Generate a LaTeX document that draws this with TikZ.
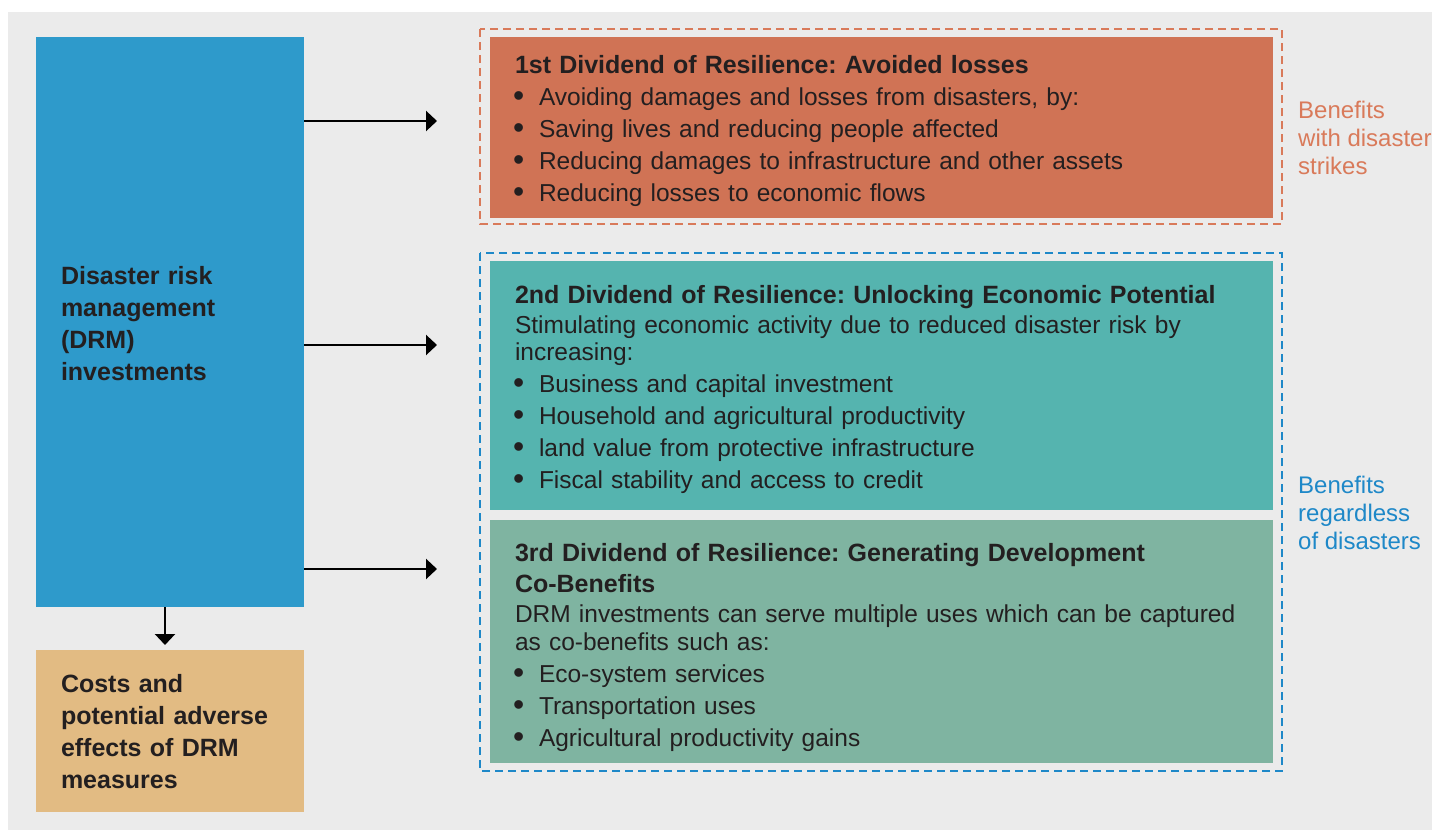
\documentclass[tikz,border=0pt]{standalone}
\usepackage{fontspec}
\usepackage{graphicx}
\setmainfont{Liberation Sans}
\usetikzlibrary{arrows.meta,positioning}
\definecolor{bggray}{HTML}{EBEBEB}
\definecolor{drmblue}{HTML}{2E9ACB}
\definecolor{costtan}{HTML}{E2BB83}
\definecolor{lossorange}{HTML}{D07355}
\definecolor{econteal}{HTML}{55B4AF}
\definecolor{devgreen}{HTML}{7FB4A1}
\definecolor{lblorange}{HTML}{D97A5A}
\definecolor{lblblue}{HTML}{1E88C8}
\definecolor{txtdark}{HTML}{231F20}
\newcommand{\bul}{\makebox[24pt][l]{\hspace{-2pt}\raisebox{-1pt}{\scalebox{1.3}{\textbullet}}}}
\newcommand{\topstrut}[1]{\rule{0pt}{#1pt}}
\frenchspacing

\begin{document}
\begin{tikzpicture}[x=1pt,y=-1pt,
  box/.style = {rectangle,anchor=north west,inner xsep=25pt,inner ysep=0pt,outer sep=0pt,
                align=left,text=txtdark,font=\fontsize{24.5}{32}\selectfont},
  boldbox/.style = {box,text width=218pt,font=\bfseries\fontsize{25}{32}\selectfont},
  divbox/.style = {box,text width=733pt,minimum width=783pt},
  frame/.style = {line width=2.5pt,dash pattern=on 8pt off 5pt},
  side/.style = {anchor=north west,inner sep=0pt,align=left,font=\fontsize{24}{28}\selectfont},
  arr/.style = {line width=2.3pt,-{Triangle[length=11pt,width=20pt]}}]
\useasboundingbox (0,0) rectangle (1432,830);
\fill[bggray] (8,12) rectangle (1432,830);

% left column
\node[boldbox,fill=drmblue,minimum height=570pt]
  (drm) at (36,37) {\topstrut{21.9}Disaster risk\\management\\(DRM)\\investments};
\node[boldbox,fill=costtan,minimum height=162pt]
  (costs) at (36,650) {\topstrut{19.9}Costs and\\potential adverse\\effects of DRM\\measures};

% dividends
\node[divbox,fill=lossorange,minimum height=181pt] (div1) at (490,37)
  {\topstrut{25.9}\textbf{\fontsize{25}{32}\selectfont 1st Dividend of Resilience: Avoided losses}\\
   \bul Avoiding damages and losses from disasters, by:\\
   \bul Saving lives and reducing people affected\\
   \bul Reducing damages to infrastructure and other assets\\
   \bul Reducing losses to economic flows};
\node[divbox,fill=econteal,minimum height=249pt] (div2) at (490,261)
  {\topstrut{25.9}\textbf{\fontsize{25}{32}\selectfont 2nd Dividend of Resilience: Unlocking Economic Potential}\\[-2pt]
   Stimulating economic activity due to reduced disaster risk by\\[-5pt]
   increasing:\\
   \bul Business and capital investment\\
   \bul Household and agricultural productivity\\
   \bul land value from protective infrastructure\\
   \bul Fiscal stability and access to credit};
\node[divbox,fill=devgreen,minimum height=243pt] (div3) at (490,520)
  {\topstrut{29.9}\textbf{\fontsize{25}{32}\selectfont 3rd Dividend of Resilience: Generating Development}\\[-1pt]
   \textbf{\fontsize{25}{32}\selectfont Co-Benefits}\\[-2pt]
   DRM investments can serve multiple uses which can be captured\\[-4pt]
   as co-benefits such as:\\
   \bul Eco-system services\\
   \bul Transportation uses\\
   \bul Agricultural productivity gains};

% dashed frames
\draw[frame,lblorange] ([shift={(-10,-8)}]div1.north west) rectangle ([shift={(9,6)}]div1.south east);
\draw[frame,lblblue] ([shift={(-10,-8)}]div2.north west) rectangle ([shift={(9,8)}]div3.south east);

% side labels
\node[side,text=lblorange] (lbl1) at (1298,101) {Benefits\\with disaster\\strikes};
\node[side,text=lblblue] (lbl2) at (1298,476) {Benefits\\regardless\\of disasters};

% arrows
\coordinate (a1) at (437,121);
\coordinate (a2) at (437,345);
\coordinate (a3) at (437,569);
\coordinate (a4) at (165,645);
\foreach \c in {a1,a2,a3}
  \draw[arr] (drm.east |- \c) -- (\c);
\draw[arr] (drm.south -| a4) -- (a4);
\end{tikzpicture}
\end{document}
